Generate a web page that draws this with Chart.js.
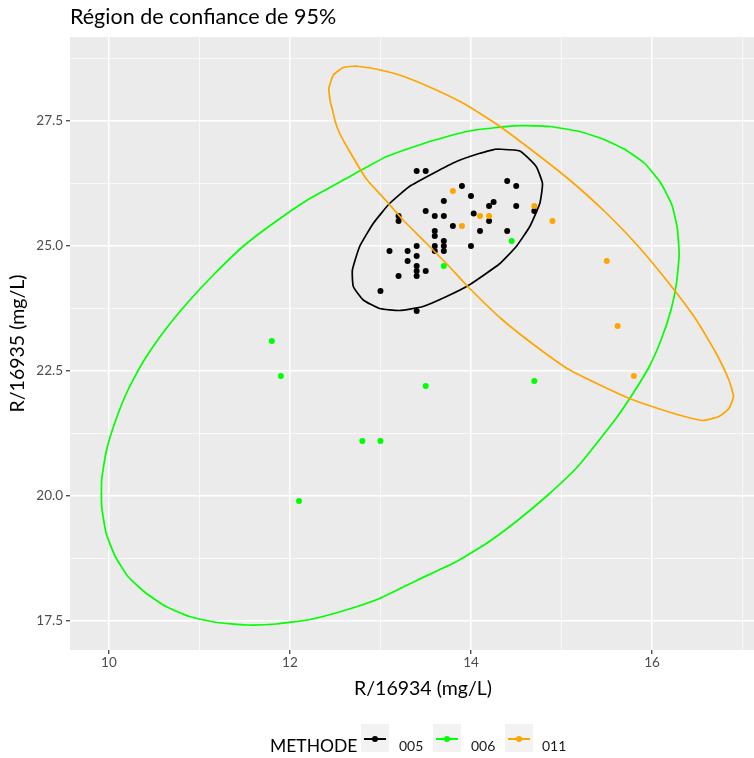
<!DOCTYPE html>
<html>
<head>
<meta charset="utf-8">
<script src="https://cdn.jsdelivr.net/npm/chart.js@4.4.1/dist/chart.umd.min.js"></script>
<style>
  html, body { margin: 0; background: #ffffff; overflow: hidden; }
  #wrap { position: relative; width: 754px; height: 758px; overflow: hidden; font-family: Lato, sans-serif; }
  #chart { position: absolute; left: 0; top: 0; }
  .lg { position: absolute; color: #000; }
  .key { position: absolute; top: 724px; width: 28px; height: 28px; background: #f2f2f2; }
  .key .ln { position: absolute; left: 3px; right: 3px; top: 14px; height: 2px; }
  .key .dot { position: absolute; left: 11px; top: 12px; width: 6px; height: 6px; border-radius: 50%; }
  .lab { position: absolute; top: 737px; font-size: 14px; color: #1a1a1a; }
</style>
</head>
<body>
<div id="wrap">
  <canvas id="chart" width="780" height="758"></canvas>
  <div class="lg" style="left:270px; top:735px; font-size:17.5px;">METHODE</div>
  <div class="key" style="left:361px;"><div class="ln" style="background:#000000"></div><div class="dot" style="background:#000000"></div></div>
  <div class="lab" style="left:399px;">005</div>
  <div class="key" style="left:433px;"><div class="ln" style="background:#00ff00"></div><div class="dot" style="background:#00ff00"></div></div>
  <div class="lab" style="left:471px;">006</div>
  <div class="key" style="left:505px;"><div class="ln" style="background:#ffa500"></div><div class="dot" style="background:#ffa500"></div></div>
  <div class="lab" style="left:542px;">011</div>
</div>
<script>
// tick values
const xMajor = [10, 12, 14, 16];
const xMinor = [11, 13, 15, 17];
const yMajor = [17.5, 20, 22.5, 25, 27.5];
const yMinor = [18.75, 21.25, 23.75, 26.25, 28.75];

// points, [R/16934, R/16935]
const pts005 = [
  [13.4, 26.5], [13.5, 26.5], [13.2, 25.6], [13.2, 25.5], [13.1, 24.9], [13.0, 24.1],
  [13.4, 23.7], [13.3, 24.9], [13.3, 24.7], [13.2, 24.4], [13.4, 25.0], [13.4, 24.8],
  [13.4, 24.6], [13.4, 24.5], [13.4, 24.4], [13.5, 24.5], [13.5, 25.7], [13.6, 25.6],
  [13.7, 25.6], [13.7, 25.9], [13.6, 25.3], [13.6, 25.2], [13.6, 25.0], [13.6, 24.9],
  [13.7, 25.1], [13.7, 25.0], [13.7, 24.9], [13.8, 25.4], [13.9, 26.2], [14.0, 26.0],
  [14.03, 25.65], [14.1, 25.3], [14.0, 25.0], [14.2, 25.5], [14.2, 25.8], [14.25, 25.88],
  [14.4, 26.3], [14.5, 26.2], [14.5, 25.8], [14.4, 25.3], [14.7, 25.7]
];
const pts006 = [
  [11.8, 23.1], [11.9, 22.4], [12.1, 19.9], [12.8, 21.1], [13.0, 21.1],
  [13.5, 22.2], [14.7, 22.3], [13.7, 24.6], [14.45, 25.1]
];
const pts011 = [
  [13.8, 26.1], [13.9, 25.4], [14.1, 25.6], [14.2, 25.6], [14.7, 25.8],
  [14.9, 25.5], [15.5, 24.7], [15.62, 23.4], [15.8, 22.4]
];

// 95% ellipse outlines
const ell005 = [
  [14.28, 26.94], [14.54, 26.90], [14.72, 26.59], [14.79, 26.25], [14.76, 25.85], [14.65, 25.39],
  [14.50, 24.99], [14.32, 24.65], [13.98, 24.22], [13.73, 23.99], [13.47, 23.79], [13.21, 23.71],
  [12.99, 23.75], [12.81, 23.92], [12.70, 24.19], [12.69, 24.52], [12.77, 24.99], [12.92, 25.45],
  [13.10, 25.85], [13.32, 26.19], [13.58, 26.45], [13.84, 26.69], [14.09, 26.85], [14.28, 26.94]
];
const ell006 = [
  [14.54, 27.41], [14.87, 27.39], [15.20, 27.29], [15.47, 27.13], [15.71, 26.92], [15.92, 26.65],
  [16.10, 26.25], [16.22, 25.82], [16.28, 25.35], [16.30, 24.82], [16.27, 24.25], [16.21, 23.72],
  [16.10, 23.12], [15.97, 22.59], [15.79, 22.05], [15.59, 21.52], [15.18, 20.59], [14.85, 20.02],
  [14.50, 19.49], [14.17, 19.05], [13.82, 18.67], [13.41, 18.32], [12.99, 17.95], [12.62, 17.72],
  [12.22, 17.53], [11.85, 17.44], [11.52, 17.42], [11.19, 17.47], [10.89, 17.59], [10.63, 17.79],
  [10.40, 18.07], [10.21, 18.39], [10.07, 18.79], [9.97, 19.25], [9.92, 19.79], [9.92, 20.32],
  [9.97, 20.89], [10.07, 21.49], [10.21, 22.12], [10.38, 22.69], [10.62, 23.32], [10.88, 23.89],
  [11.17, 24.45], [11.50, 25.02], [11.89, 25.55], [12.22, 25.95], [12.59, 26.32], [13.07, 26.79],
  [13.51, 27.07], [13.95, 27.29], [14.28, 27.37], [14.54, 27.41]
];
const ell011 = [
  [12.73, 28.60], [12.92, 28.55], [13.21, 28.42], [13.58, 28.15], [13.95, 27.82], [14.32, 27.39],
  [14.72, 26.85], [15.09, 26.32], [15.46, 25.72], [15.82, 25.05], [16.19, 24.25], [16.49, 23.52],
  [16.71, 22.85], [16.85, 22.32], [16.90, 21.99], [16.85, 21.75], [16.74, 21.59], [16.56, 21.51],
  [16.34, 21.60], [16.05, 21.76], [15.75, 21.95], [15.46, 22.19], [15.09, 22.52], [14.72, 22.99],
  [14.35, 23.52], [13.98, 24.16], [13.76, 24.59], [13.51, 25.05], [13.25, 25.52], [13.07, 25.89],
  [12.84, 26.35], [12.66, 26.89], [12.55, 27.25], [12.50, 27.49], [12.47, 27.72], [12.45, 27.85],
  [12.43, 28.15], [12.48, 28.42], [12.59, 28.57], [12.73, 28.60]
];

const toXY = arr => arr.map(p => ({ x: p[0], y: p[1] }));

function ellipse(label, pts, color) {
  return {
    label: label, data: toXY(pts), showLine: true, borderColor: color,
    borderWidth: 1.7, pointRadius: 0, tension: 0.15, fill: false
  };
}
function points(label, pts, color) {
  return {
    label: label, data: toXY(pts), showLine: false, backgroundColor: color,
    borderWidth: 0, pointRadius: 3
  };
}

const isMajor = (list, v) => list.some(m => Math.abs(m - v) < 1e-6);

// grey panel behind the grid, plus the title
const panelPlugin = {
  id: "panel",
  beforeDraw(chart) {
    const a = chart.chartArea, c = chart.ctx;
    c.save();
    c.fillStyle = "#ebebeb";
    c.fillRect(a.left, a.top, a.right - a.left, a.bottom - a.top);
    c.restore();
  },
  afterDraw(chart) {
    const c = chart.ctx;
    c.save();
    c.font = "21.5px Lato";
    c.fillStyle = "#000000";
    c.textBaseline = "middle";
    c.fillText("Région de confiance de 95%", chart.chartArea.left, 17);
    c.restore();
  }
};

// the reference is cropped on the right: the panel runs past the window edge
new Chart(document.getElementById("chart"), {
  type: "scatter",
  data: {
    datasets: [
      ellipse("011", ell011, "#ffa500"),
      ellipse("006", ell006, "#00ff00"),
      ellipse("005", ell005, "#000000"),
      points("011", pts011, "#ffa500"),
      points("006", pts006, "#00ff00"),
      points("005", pts005, "#000000")
    ]
  },
  options: {
    responsive: false,
    animation: false,
    devicePixelRatio: 1,
    layout: { padding: { top: 37, right: 3, bottom: 56, left: 0 } },
    plugins: { legend: { display: false }, tooltip: { enabled: false } },
    scales: {
      x: {
        type: "linear", min: 9.57, max: 17.37,
        afterBuildTicks: s => { s.ticks = xMajor.concat(xMinor).sort((a, b) => a - b).map(v => ({ value: v })); },
        afterFit: s => { s.height = 52; },
        border: { display: false },
        grid: {
          color: "#ffffff",
          lineWidth: c => isMajor(xMajor, c.tick.value) ? 1.5 : 0.7,
          tickColor: c => isMajor(xMajor, c.tick.value) ? "#333333" : "rgba(0,0,0,0)",
          tickLength: 4, tickWidth: 1.2
        },
        ticks: {
          autoSkip: false, maxRotation: 0, padding: 1, color: "#4d4d4d",
          font: { family: "Lato", size: 13.5 },
          callback: v => isMajor(xMajor, v) ? String(v) : ""
        },
        title: {
          display: true, text: "R/16934 (mg/L)", color: "#000000",
          font: { family: "Lato", size: 19.5 }, padding: { top: 0, bottom: 2 }
        }
      },
      y: {
        type: "linear", min: 16.92, max: 29.18,
        afterBuildTicks: s => { s.ticks = yMajor.concat(yMinor).sort((a, b) => a - b).map(v => ({ value: v })); },
        afterFit: s => { s.width = 70; },
        border: { display: false },
        grid: {
          color: "#ffffff",
          lineWidth: c => isMajor(yMajor, c.tick.value) ? 1.5 : 0.7,
          tickColor: c => isMajor(yMajor, c.tick.value) ? "#333333" : "rgba(0,0,0,0)",
          tickLength: 4, tickWidth: 1.2
        },
        ticks: {
          autoSkip: false, padding: 3, color: "#4d4d4d",
          font: { family: "Lato", size: 13.5 },
          callback: v => isMajor(yMajor, v) ? v.toFixed(1) : ""
        },
        title: {
          display: true, text: "R/16935 (mg/L)", color: "#000000",
          font: { family: "Lato", size: 19.5 }, padding: { top: 6, bottom: 0 }
        }
      }
    }
  },
  plugins: [panelPlugin]
});
</script>
</body>
</html>
